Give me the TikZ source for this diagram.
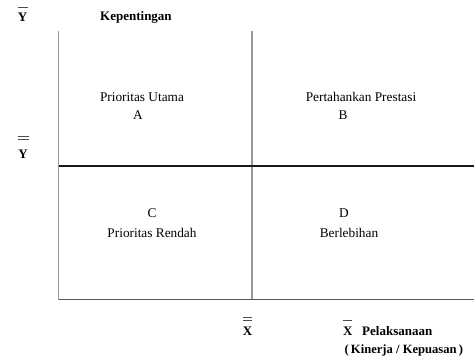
\documentclass[tikz,border=0pt]{standalone}
\usepackage{fontspec}
\setmainfont{Liberation Serif}
\begin{document}
\begin{tikzpicture}[x=1pt,y=-1pt,
  lbl/.style={font=\fontsize{13.3}{14}\selectfont, inner sep=0pt},
  blbl/.style={font=\fontsize{13}{14}\selectfont\bfseries, inner sep=0pt},
  grayline/.style={draw=black!40, line width=1.2pt},
  darkline/.style={draw=black!90, line width=1.2pt},
  barline/.style={draw=black!70, line width=0.7pt}]
\useasboundingbox (0,0) rectangle (474,360);
% axes and grid
\coordinate (tl) at (58.5,31);
\coordinate (bl) at (58.5,299.5);
\coordinate (br) at (474,299.5);
\coordinate (mt) at (252,31);
\coordinate (mb) at (252,299.5);
\coordinate (ml) at (58.5,166);
\coordinate (mr) at (474,166);
\draw[grayline] (tl) -- (bl);
\draw[grayline] (mt) -- (mb);
\draw[darkline] (ml) -- (mr);
\draw[draw=black!65, line width=1.4pt] (bl) -- (br);
% top-left labels
\node[blbl] (ybar) at (22.5,17) {Y};
\draw[barline] (17.5,7) -- (27.5,7);
\node[blbl, anchor=west] (kep) at (100,17) {Kepentingan};
% Y double bar
\node[blbl] (ydbar) at (23,154) {Y};
\draw[barline] (17.5,136) -- (28.5,136);
\draw[barline] (17.5,139.5) -- (28.5,139.5);
% quadrant labels
\node[lbl] (pu) at (142,97) {Prioritas Utama};
\node[lbl] (a) at (138,115) {A};
\node[lbl] (pp) at (361,97) {Pertahankan Prestasi};
\node[lbl] (b) at (343,115) {B};
\node[lbl] (c) at (152,213) {C};
\node[lbl] (pr) at (152,233) {Prioritas Rendah};
\node[lbl] (d) at (344,213) {D};
\node[lbl] (bh) at (349,233) {Berlebihan};
% bottom labels
\node[blbl] (xdbar) at (247.5,331) {X};
\draw[barline] (243,317) -- (252,317);
\draw[barline] (243,320.5) -- (252,320.5);
\node[blbl, anchor=west] (xbar) at (343,331) {X};
\draw[barline] (343,320.5) -- (352,320.5);
\node[blbl, anchor=west] (pel) at (362,331) {Pelaksanaan};
\node[blbl, anchor=west, font=\fontsize{12.6}{14}\selectfont\bfseries] (kk) at (344.5,350.5) {(\,Kinerja / Kepuasan\,)};
\end{tikzpicture}
\end{document}
